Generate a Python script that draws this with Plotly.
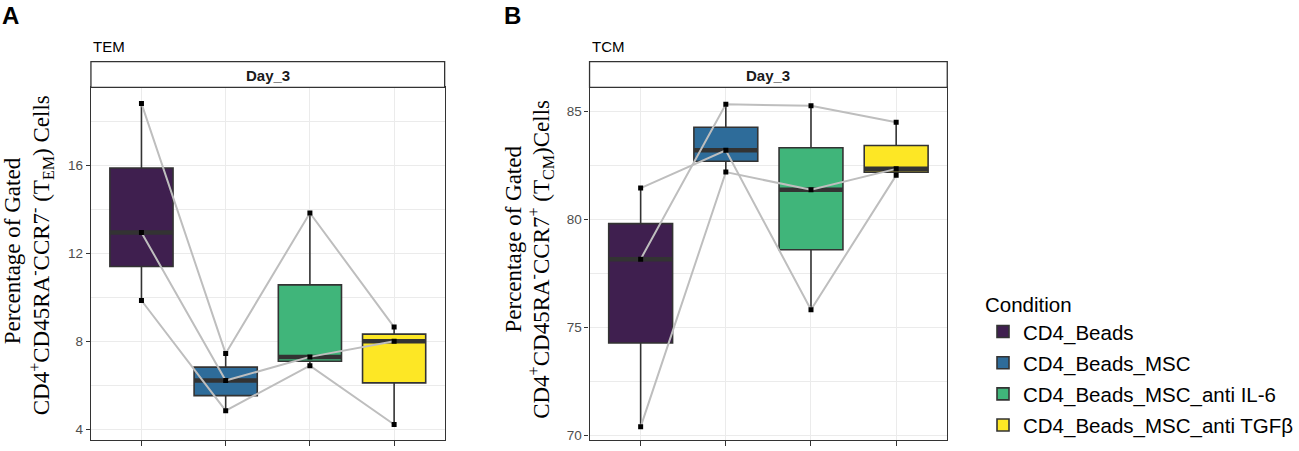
import numpy as np
import plotly.graph_objects as go

W, H = 1299, 451

conditions = ["CD4_Beads", "CD4_Beads_MSC", "CD4_Beads_MSC_anti IL-6", "CD4_Beads_MSC_anti TGFβ"]
x_pos = [0, 1, 2, 3]

# TEM (panel A): one list per donor, values per condition
tem_donor1 = [18.84, 7.44, 13.85, 8.65]
tem_donor2 = [12.96, 6.21, 7.29, 8.00]
tem_donor3 = [9.86, 4.84, 6.89, 4.21]

# TCM (panel B)
tcm_donor1 = [81.46, 83.21, 75.83, 82.05]
tcm_donor2 = [78.17, 85.34, 85.27, 84.51]
tcm_donor3 = [70.41, 82.20, 81.38, 82.35]

tem_ticks = [4, 8, 12, 16]
tem_minor = [6, 10, 14, 18]
tcm_ticks = [70, 75, 80, 85]
tcm_minor = [72.5, 77.5, 82.5]

colors = ["#3F1F4F", "#2E6C9A", "#40B57A", "#FDE725"]
DARK = "#333333"
GRID = "#EBEBEB"
SANS = "Liberation Sans, Arial, sans-serif"
SERIF = "Liberation Serif, Times New Roman, serif"

def px_x(p):
    return p / W

def px_y(p):
    return (H - p) / H

panels = [
    dict(donors=[tem_donor1, tem_donor2, tem_donor3], xa="x", ya="y", x0=91, x1=445,
         ticks=tem_ticks, minor=tem_minor, rng=[3.5, 19.57], title="TEM", label="A", label_x=0,
         ytitle1="Percentage of Gated",
         ytitle2="CD4<sup>+</sup>CD45RA<sup>-</sup>CCR7<sup>-</sup> (T<sub>EM</sub>) Cells",
         t1=(12.5, 252.5), t2=(41, 257)),
    dict(donors=[tcm_donor1, tcm_donor2, tcm_donor3], xa="x2", ya="y2", x0=590, x1=948,
         ticks=tcm_ticks, minor=tcm_minor, rng=[69.8, 86.12], title="TCM", label="B", label_x=502,
         ytitle1="Percentage of Gated",
         ytitle2="CD4<sup>+</sup>CD45RA<sup>-</sup>CCR7<sup>+</sup> (T<sub>CM</sub>)Cells",
         t1=(513.5, 241), t2=(541, 261)),
]

fig = go.Figure()
shapes = []
annotations = []
PT, PB, ST = 88, 443, 62

for pi, p in enumerate(panels):
    donors = p["donors"]
    # boxes
    for i, cond in enumerate(conditions):
        vals = [d[i] for d in donors]
        fig.add_trace(go.Box(
            x=[x_pos[i]] * len(vals), y=vals, name=cond,
            fillcolor=colors[i], line=dict(color=DARK, width=1.6),
            width=0.75, whiskerwidth=0, boxpoints=False, quartilemethod="inclusive",
            showlegend=(pi == 0), legendgroup=cond,
            xaxis=p["xa"], yaxis=p["ya"], hoverinfo="skip"))
    # thick median bars
    for i in range(len(conditions)):
        med = float(np.median([d[i] for d in donors]))
        fig.add_trace(go.Scatter(
            x=[x_pos[i] - 0.375, x_pos[i] + 0.375], y=[med, med], mode="lines",
            line=dict(color=DARK, width=4.5), showlegend=False, hoverinfo="skip",
            xaxis=p["xa"], yaxis=p["ya"]))
    # donor lines
    for d in donors:
        fig.add_trace(go.Scatter(
            x=x_pos, y=d, mode="lines", line=dict(color="#BEBEBE", width=2),
            showlegend=False, hoverinfo="skip", xaxis=p["xa"], yaxis=p["ya"]))
    # points
    for d in donors:
        fig.add_trace(go.Scatter(
            x=x_pos, y=d, mode="markers",
            marker=dict(symbol="square", size=5, color="black"),
            showlegend=False, hoverinfo="skip", xaxis=p["xa"], yaxis=p["ya"]))

    dom_x = [px_x(p["x0"]), px_x(p["x1"])]
    dom_y = [px_y(PB), px_y(PT)]
    xkey = "xaxis" if p["xa"] == "x" else "xaxis2"
    ykey = "yaxis" if p["ya"] == "y" else "yaxis2"
    fig.update_layout(**{
        xkey: dict(domain=dom_x, anchor=p["ya"], range=[-0.6, 3.6], tickvals=x_pos,
                   showticklabels=False, ticks="outside", ticklen=5, tickwidth=1.2,
                   tickcolor=DARK, showgrid=True, gridcolor=GRID, gridwidth=1.1,
                   showline=True, mirror=True, linecolor=DARK, linewidth=1.3,
                   zeroline=False, fixedrange=True),
        ykey: dict(domain=dom_y, anchor=p["xa"], range=p["rng"], tickvals=p["ticks"],
                   ticks="outside", ticklen=4, tickwidth=1.2, tickcolor=DARK,
                   tickfont=dict(family=SANS, size=13.5, color="#4D4D4D"),
                   showgrid=True, gridcolor=GRID, gridwidth=1.1,
                   minor=dict(tickvals=p["minor"], showgrid=True, gridcolor=GRID,
                              gridwidth=0.6, ticks=""),
                   showline=True, mirror=True, linecolor=DARK, linewidth=1.3,
                   zeroline=False, fixedrange=True),
    })
    # strip
    shapes.append(dict(type="rect", xref="paper", yref="paper",
                       x0=dom_x[0], x1=dom_x[1], y0=px_y(PT), y1=px_y(ST),
                       fillcolor="white", line=dict(color=DARK, width=1.3), layer="above"))
    annotations.append(dict(text="<b>Day_3</b>", xref="paper", yref="paper",
                            x=(dom_x[0] + dom_x[1]) / 2, y=px_y(76), showarrow=False,
                            xanchor="center", yanchor="middle",
                            font=dict(family=SANS, size=15, color="#1A1A1A")))
    annotations.append(dict(text=p["title"], xref="paper", yref="paper",
                            x=dom_x[0], y=px_y(47), showarrow=False,
                            xanchor="left", yanchor="middle",
                            font=dict(family=SANS, size=15, color="black")))
    annotations.append(dict(text="<b>" + p["label"] + "</b>", xref="paper", yref="paper",
                            x=px_x(p["label_x"]), y=px_y(16), showarrow=False,
                            xanchor="left", yanchor="middle",
                            font=dict(family=SANS, size=24, color="black")))
    annotations.append(dict(text=p["ytitle1"], xref="paper", yref="paper",
                            x=px_x(p["t1"][0]), y=px_y(p["t1"][1]), showarrow=False,
                            textangle=-90, xanchor="center", yanchor="middle",
                            font=dict(family=SERIF, size=23, color="black")))
    annotations.append(dict(text=p["ytitle2"], xref="paper", yref="paper",
                            x=px_x(p["t2"][0]), y=px_y(p["t2"][1]), showarrow=False,
                            textangle=-90, xanchor="center", yanchor="middle",
                            font=dict(family=SERIF, size=23, color="black")))

fig.update_layout(
    width=W, height=H,
    margin=dict(l=0, r=0, t=0, b=0),
    paper_bgcolor="white", plot_bgcolor="white",
    shapes=shapes, annotations=annotations,
    legend=dict(title=dict(text="Condition", font=dict(family=SANS, size=20.5, color="black")),
                font=dict(family=SANS, size=20.5, color="black"),
                x=px_x(984), y=px_y(287), xanchor="left", yanchor="top",
                bgcolor="rgba(0,0,0,0)", traceorder="grouped", tracegroupgap=1.5),
    showlegend=True,
)

fig.write_html("out.html", config={"displayModeBar": False},
               post_script="document.body.style.margin='0';")
